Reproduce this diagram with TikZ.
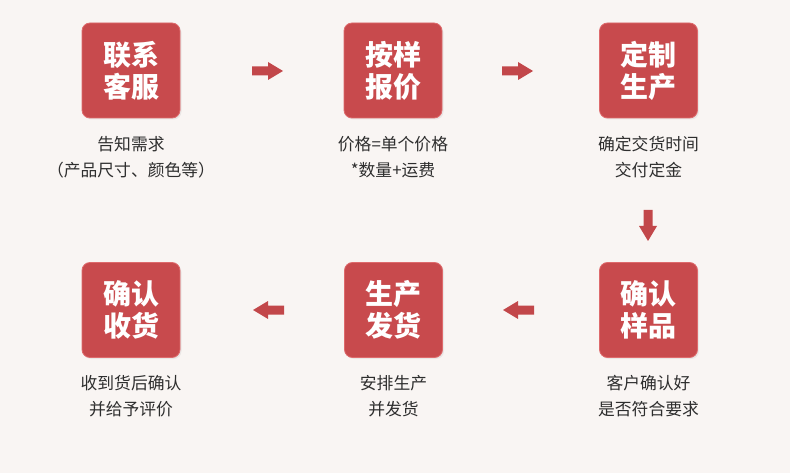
\documentclass[tikz,border=0pt]{standalone}
\usepackage{fontspec}
\newfontfamily\cjk{Noto Sans CJK SC}
\usetikzlibrary{shadows}
\definecolor{bgc}{HTML}{F9F5F3}
\definecolor{boxc}{HTML}{C84A4D}
\definecolor{boxrim}{HTML}{DE6A6C}
\definecolor{arrc}{HTML}{C2474A}
\definecolor{txtc}{HTML}{2E2E2E}
\tikzset{
  stepbox/.style={minimum width=98pt, minimum height=95pt, rounded corners=8pt,
    fill=boxc, draw=boxrim, line width=0.8pt, text=white, align=center, inner sep=0pt,
    font=\cjk\bfseries\fontsize{28}{32}\selectfont,
    drop shadow={shadow xshift=1.5pt, shadow yshift=-1.5pt, opacity=0.12}},
  desc/.style={text=txtc, align=center, inner sep=0pt, font=\cjk\fontsize{16.8}{26.5}\selectfont},
  barrow/.pic={\fill[arrc] (-15.5,-4.5) -- (0.5,-4.5) -- (0.5,-9) -- (15.5,0) -- (0.5,9) -- (0.5,4.5) -- (-15.5,4.5) -- cycle;}
}
\begin{document}
\begin{tikzpicture}[x=1pt,y=-1pt]
\fill[bgc] (0,0) rectangle (790,473);
\useasboundingbox (0,0) rectangle (790,473);
% row 1
\node[stepbox] (b1) at (131,70.5) {联系\\客服};
\node[stepbox] (b2) at (393,70.5) {按样\\报价};
\node[stepbox] (b3) at (648.5,70.5) {定制\\生产};
\node[desc] (d1) at (131,157) {告知需求\\（产品尺寸、颜色等）};
\node[desc] (d2) at (393,157) {价格=单个价格\\*数量+运费};
\node[desc] (d3) at (648.5,157) {确定交货时间\\交付定金};
% row 2
\node[stepbox] (b4) at (131,310) {确认\\收货};
\node[stepbox] (b5) at (393.5,310) {生产\\发货};
\node[stepbox] (b6) at (648.5,310) {确认\\样品};
\node[desc] (d4) at (131,396) {收到货后确认\\并给予评价};
\node[desc] (d5) at (393.5,396) {安排生产\\并发货};
\node[desc] (d6) at (648.5,396) {客户确认好\\是否符合要求};
% arrows
\pic (a1) at (267.5,71) {barrow};
\pic (a2) at (517.5,71) {barrow};
\pic[rotate=-90] (a3) at (648,225.5) {barrow};
\pic[rotate=180] (a4) at (518.5,310) {barrow};
\pic[rotate=180] (a5) at (268.5,310) {barrow};
\end{tikzpicture}
\end{document}
